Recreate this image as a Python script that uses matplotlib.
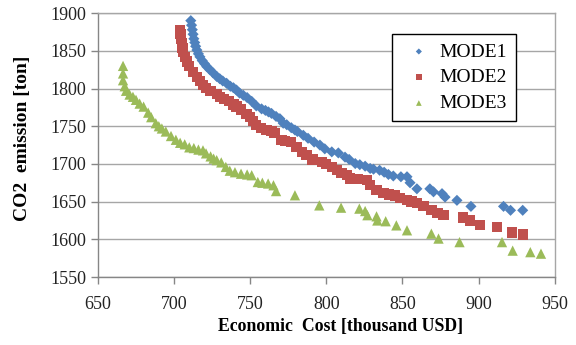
import matplotlib

matplotlib.use("Agg")
import matplotlib.pyplot as plt

# Pareto fronts: economic cost (thousand USD) vs CO2 emission (ton)
mode1_cost = [711, 711.5, 712, 712.5, 713, 713.6, 714.2, 715, 716, 717, 718.5, 720,
              721.5, 723.5, 725.5, 728, 730, 732, 734.5, 737, 739, 741, 743, 745.5,
              748, 751, 754, 757.5, 760, 762, 764, 767, 769.5, 771.7, 774, 777, 779.4,
              781, 784.9, 788, 792, 795.8, 799, 803.6, 807.9, 812.3, 815, 819, 822,
              825.5, 828.8, 831, 835, 838, 840.8, 844, 849, 853, 855, 859.5, 868, 870.4,
              876, 878, 885.8, 895, 916.4, 921, 929]
mode1_co2 = [1890, 1884, 1878, 1872, 1866, 1861, 1856, 1851, 1846, 1842, 1837, 1833,
             1829, 1825, 1821, 1816, 1813, 1810, 1807, 1803, 1801, 1798, 1794, 1791,
             1788, 1783, 1777, 1773, 1771, 1769, 1767, 1763, 1760, 1754, 1752, 1748,
             1745, 1743, 1738, 1734, 1729, 1725, 1720, 1716, 1714.6, 1709, 1706, 1700.5,
             1699, 1697, 1694, 1693, 1691.6, 1689, 1686, 1684, 1683, 1683, 1675, 1667,
             1667, 1663, 1660.6, 1656, 1651.7, 1643.7, 1643.7, 1638.5, 1638.5]

mode2_cost = [704, 704.2, 704.5, 705, 705.5, 706, 707, 708.5, 710, 712.5, 715, 717,
              719, 721, 724, 728, 730, 733, 736, 739, 741, 744, 747.6, 750, 752, 754,
              757, 760.8, 764, 766, 770.6, 773, 777, 780.5, 784, 787, 791, 797, 800,
              803.6, 806.8, 810, 813.4, 815.6, 821, 826.6, 828.8, 833, 837.5, 841, 845,
              848.5, 853, 856, 859.5, 863.8, 869, 873, 877, 890, 894.5, 901, 912, 922,
              929]
mode2_co2 = [1878, 1872, 1866, 1860, 1854, 1848, 1842, 1836, 1830, 1822, 1815, 1810,
             1805, 1801, 1797, 1793, 1789, 1786, 1783, 1779, 1776, 1772, 1766, 1762,
             1757, 1752, 1748, 1745, 1744, 1741, 1731.5, 1730, 1729, 1722.6, 1716,
             1711.6, 1706, 1702.7, 1700, 1696, 1691.6, 1688, 1685, 1680.6, 1680, 1679,
             1671.7, 1665, 1661.4, 1659.5, 1658, 1655, 1652, 1650, 1648, 1644, 1638.5,
             1635, 1632, 1629, 1625, 1619.4, 1616, 1609, 1606.6]

mode3_cost = [666.5, 666.5, 666.5, 667.6, 668.5, 670.8, 673, 675, 677.4, 680, 683, 685,
              688, 690, 692, 694.6, 698, 701.2, 704, 707, 710, 713, 716, 719, 721, 724,
              726, 728, 731, 734, 736.6, 740, 744, 748, 751, 755, 758, 761.8, 765.3, 767,
              779.4, 795.4, 809.7, 821.7, 825.5, 827, 833, 833.5, 839, 846, 853, 869,
              873.7, 887.5, 915.4, 922.4, 934, 941]
mode3_co2 = [1830, 1820, 1811, 1803, 1797, 1792, 1789, 1785, 1780, 1776, 1768, 1762,
             1754, 1750, 1747, 1743, 1737, 1732, 1728, 1726, 1722, 1721, 1719, 1718,
             1714, 1710, 1707, 1705, 1702, 1696, 1691, 1689, 1687, 1686, 1685, 1676,
             1675, 1674, 1671.7, 1664, 1658.4, 1645, 1642, 1640.7, 1637.5, 1632, 1630.5,
             1625, 1624, 1618.5, 1612, 1607.5, 1601, 1596.3, 1596.3, 1585, 1583, 1581]

x_ticks = [650, 700, 750, 800, 850, 900, 950]
y_ticks = [1550, 1600, 1650, 1700, 1750, 1800, 1850, 1900]

plt.rcParams["font.family"] = ["Liberation Serif", "DejaVu Serif"]

fig = plt.figure(figsize=(5.76, 3.45), dpi=100)
ax = fig.add_axes([0.170, 0.197, 0.793, 0.765])

grid_color = "#a6a6a6"
ax.set_axisbelow(True)
ax.yaxis.grid(True, color=grid_color, lw=1.0)

ax.scatter(mode1_cost, mode1_co2, marker="D", s=32, color="#4f81bd",
           edgecolors="none", label="MODE1", zorder=3)
ax.scatter(mode2_cost, mode2_co2, marker="s", s=55, color="#c0504d",
           edgecolors="none", label="MODE2", zorder=3)
ax.scatter(mode3_cost, mode3_co2, marker="^", s=55, color="#9bbb59",
           edgecolors="none", label="MODE3", zorder=3)

ax.set_xlim(650, 950)
ax.set_ylim(1550, 1900)
ax.set_xticks(x_ticks)
ax.set_yticks(y_ticks)
ax.tick_params(labelsize=13, colors="#868686", labelcolor="#222222",
               length=5, width=1.0, direction="out")
ax.tick_params(axis="x", pad=9)

for side in ["left", "right", "top", "bottom"]:
    ax.spines[side].set_color("#868686")
    ax.spines[side].set_linewidth(1.0)
ax.spines["top"].set_color(grid_color)
ax.spines["right"].set_color(grid_color)

ax.set_xlabel("Economic  Cost [thousand USD]", fontsize=12.8, fontweight="bold",
              va="center")
ax.xaxis.set_label_coords(0.531, -0.189)
ax.set_ylabel("CO2  emission [ton]", fontsize=14, fontweight="bold", va="center")
ax.yaxis.set_label_coords(-0.166, 0.527)

leg = ax.legend(loc="upper left", bbox_to_anchor=(0.643, 0.92), fontsize=14,
                frameon=True, fancybox=False, edgecolor="black", framealpha=1,
                markerscale=0.55, handletextpad=0.1, handlelength=1.9,
                borderpad=0.45, labelspacing=0.42, borderaxespad=0)
leg.get_frame().set_linewidth(1.0)

fig.savefig("out.png", dpi=100)
